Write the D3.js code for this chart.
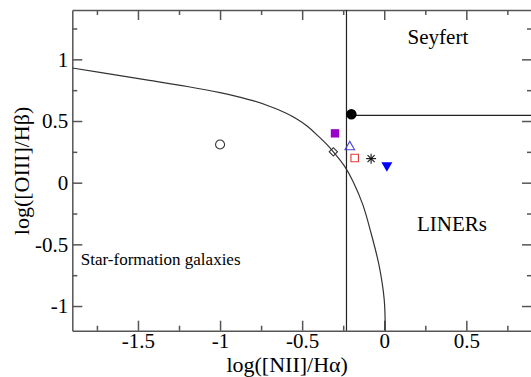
<!DOCTYPE html>
<html>
<head>
<meta charset="utf-8">
<script src="https://cdn.jsdelivr.net/npm/d3@7"></script>
<style>
  body { margin: 0; background: #fff; }
  svg { display: block; font-family: 'Liberation Serif', 'Times New Roman', serif; }
  svg text { font-family: 'Liberation Serif', 'Times New Roman', serif; }
</style>
</head>
<body>
<svg class="bpt"></svg>
<script>
const graphWidth = 531;
const graphHeight = 377;

// demarcation curve
const curveX = [-1.90, -1.60, -1.43, -1.20, -1.00, -0.90, -0.80, -0.70, -0.60, -0.53, -0.47, -0.40, -0.35, -0.31, -0.24, -0.19, -0.13, -0.08, -0.03, 0.00, 0.006];
const curveY = [0.93, 0.866, 0.83, 0.78, 0.73, 0.70, 0.665, 0.62, 0.565, 0.515, 0.46, 0.375, 0.31, 0.25, 0.13, 0.01, -0.18, -0.41, -0.68, -0.95, -1.2];

// objects
const pointNames = ['circle', 'square', 'diamond', 'triangle', 'redSquare', 'asterisk', 'downTriangle', 'dot'];
const pointX = [-1.00, -0.30, -0.31, -0.21, -0.18, -0.08, 0.016, -0.20];
const pointY = [0.31, 0.40, 0.25, 0.29, 0.20, 0.195, 0.14, 0.555];

// dividing lines
const dividerX = -0.23;
const seyfertY = 0.545;

const xTicks = [-1.5, -1, -0.5, 0, 0.5];
const yTicks = [-1, -0.5, 0, 0.5, 1];
const xMinor = [-1.75, -1.25, -0.75, -0.25, 0.25, 0.75];
const yMinor = [-0.75, -0.25, 0.25, 0.75, 1.25];

const regionNames = ['Seyfert', 'LINERs', 'Star-formation galaxies'];
const regionX = [0.327, 0.413, -1.848];
const regionY = [1.126, -0.39, -0.668];

const margin = { top: 10, left: 72.3 };
const plotRight = 532;
const plotBottom = 330.7;

const x = d3.scaleLinear().domain([-1.9, 0.9]).range([margin.left, plotRight]);
const y = d3.scaleLinear().domain([-1.2, 1.4]).range([plotBottom, margin.top]);

const svg = d3
  .select('.bpt')
  .attr('width', graphWidth)
  .attr('height', graphHeight);

const axisColor = '#555';

//Axes with inward ticks, major + minor
function drawAxis(axisFn, pos, major, minor, showLabels) {
  const g = svg.append('g').attr('transform', pos);
  g.call(
    axisFn
      .tickValues(major)
      .tickSizeInner(-10)
      .tickSizeOuter(0)
      .tickPadding(showLabels ? 4 : 0)
      .tickFormat(showLabels ? d => d : '')
  );
  g.attr('font-family', null).attr('font-size', null);
  g.select('.domain').attr('stroke', axisColor).attr('stroke-width', 1.5);
  g.selectAll('.tick line').attr('stroke', axisColor).attr('stroke-width', 1.5);
  g.selectAll('.tick text')
    .attr('fill', '#000')
    .style('font-family', 'Liberation Serif')
    .style('font-size', '21px');
  const gm = svg.append('g').attr('transform', pos);
  gm.call(axisFn.tickValues(minor).tickSizeInner(-5).tickFormat(''));
  gm.select('.domain').remove();
  gm.selectAll('.tick line').attr('stroke', axisColor).attr('stroke-width', 1.5);
  return g;
}

drawAxis(d3.axisBottom(x), 'translate(0,' + plotBottom + ')', xTicks, xMinor, true)
  .selectAll('.tick text').attr('y', 2).attr('dy', '0.71em');
drawAxis(d3.axisTop(x), 'translate(0,' + margin.top + ')', xTicks, xMinor, false);
drawAxis(d3.axisLeft(y), 'translate(' + margin.left + ',0)', yTicks, yMinor, true);
drawAxis(d3.axisRight(y), 'translate(' + plotRight + ',0)', yTicks, yMinor, false);

//Dividing lines
svg
  .append('line')
  .attr('x1', x(dividerX))
  .attr('x2', x(dividerX))
  .attr('y1', y(1.4))
  .attr('y2', y(-1.2))
  .attr('stroke', '#222')
  .attr('stroke-width', 1.2);

svg
  .append('line')
  .attr('x1', x(pointX[7]))
  .attr('x2', x(0.9))
  .attr('y1', y(seyfertY))
  .attr('y2', y(seyfertY))
  .attr('stroke', '#222')
  .attr('stroke-width', 1.2);

//Curve
const line = d3
  .line()
  .x(d => x(d[0]))
  .y(d => y(d[1]))
  .curve(d3.curveCatmullRom.alpha(0.5));

svg
  .append('path')
  .datum(curveX.map((v, i) => [v, curveY[i]]))
  .attr('d', line)
  .attr('fill', 'none')
  .attr('stroke', '#333')
  .attr('stroke-width', 1.2);

//Markers
const styles = {
  circle: { type: 'circle', r: 4.5, fill: 'none', stroke: '#333' },
  square: { symbol: d3.symbolSquare, size: 70, fill: '#9900cc', stroke: 'none' },
  diamond: { symbol: d3.symbolSquare, size: 34, rotate: 45, fill: 'none', stroke: '#333' },
  triangle: { symbol: d3.symbolTriangle, size: 40, fill: 'none', stroke: '#4a4ad8' },
  redSquare: { symbol: d3.symbolSquare, size: 56, fill: 'none', stroke: '#e03a3a' },
  asterisk: { type: 'asterisk', r: 5, stroke: '#111' },
  downTriangle: { symbol: d3.symbolTriangle, size: 52, rotate: 180, fill: '#0000ff', stroke: 'none' },
  dot: { type: 'circle', r: 5.2, fill: '#000', stroke: 'none' }
};

const points = pointNames.map((n, i) => ({ name: n, x: pointX[i], y: pointY[i] }));

points.forEach(p => {
  const s = styles[p.name];
  const g = svg
    .append('g')
    .attr('transform', 'translate(' + x(p.x) + ',' + y(p.y) + ') rotate(' + (s.rotate || 0) + ')');
  if (s.type === 'circle') {
    g.append('circle')
      .attr('r', s.r)
      .attr('fill', s.fill)
      .attr('stroke', s.stroke)
      .attr('stroke-width', 1.1);
  } else if (s.type === 'asterisk') {
    [0, 45, 90, 135].forEach(a => {
      g.append('line')
        .attr('x1', -s.r)
        .attr('x2', s.r)
        .attr('y1', 0)
        .attr('y2', 0)
        .attr('transform', 'rotate(' + a + ')')
        .attr('stroke', s.stroke)
        .attr('stroke-width', 1.1);
    });
  } else {
    g.append('path')
      .attr('d', d3.symbol().type(s.symbol).size(s.size)())
      .attr('fill', s.fill)
      .attr('stroke', s.stroke)
      .attr('stroke-width', 1.1);
  }
});

//Region labels
svg
  .selectAll('text.region')
  .data(regionNames)
  .enter()
  .append('text')
  .attr('class', 'region')
  .attr('x', (d, i) => x(regionX[i]))
  .attr('y', (d, i) => y(regionY[i]))
  .attr('text-anchor', (d, i) => (i < 2 ? 'middle' : 'start'))
  .style('font-size', (d, i) => (i < 2 ? '21px' : '17px'))
  .text(d => d);

//Axis titles
svg
  .append('text')
  .attr('x', (x(-1.9) + x(0.9)) / 2 - 15)
  .attr('y', 372)
  .attr('text-anchor', 'middle')
  .style('font-size', '22px')
  .text('log([NII]/Hα)');

svg
  .append('text')
  .attr('transform', 'translate(29,' + 171 + ') rotate(-90)')
  .attr('text-anchor', 'middle')
  .style('font-size', '22px')
  .text('log([OIII]/Hβ)');
</script>
</body>
</html>
